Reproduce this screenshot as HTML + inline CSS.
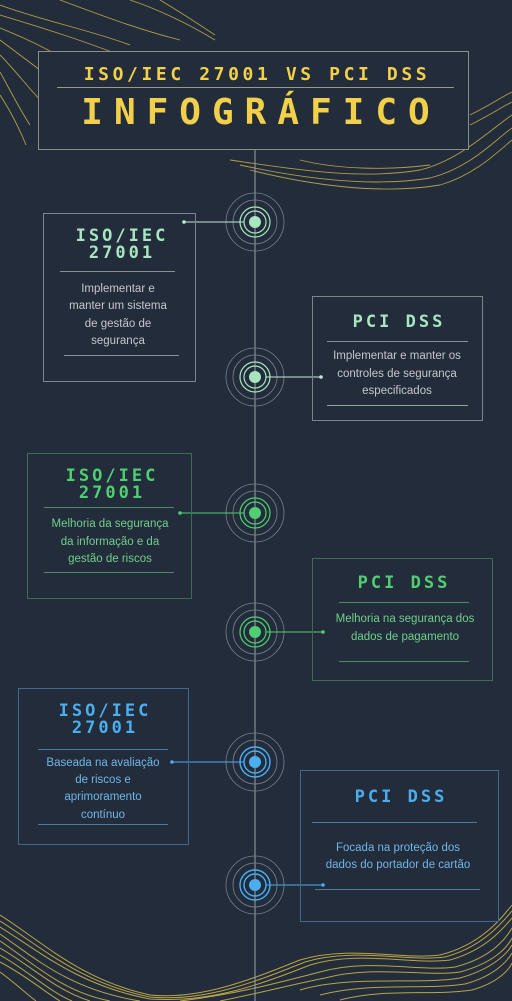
<!DOCTYPE html>
<html><head><meta charset="utf-8"><style>
html,body{margin:0;padding:0;background:#232c3b;}
svg{display:block}
.t{font-family:"DejaVu Sans Mono","Liberation Mono",monospace;font-weight:bold;text-anchor:middle}
.c{letter-spacing:3px}
.b{font-family:"Liberation Sans","DejaVu Sans",sans-serif;font-size:11.5px;text-anchor:middle}
</style></head><body>
<svg width="512" height="1001" viewBox="0 0 512 1001" xmlns="http://www.w3.org/2000/svg">
<rect width="512" height="1001" fill="#232c3b"/>
<g fill="none" stroke="#c9b24a" stroke-width="0.9" opacity="0.85">
  <path d="M0 5 C40 20 90 30 130 45"/>
  <path d="M0 15 C50 30 80 40 120 55"/>
  <path d="M0 28 C30 40 60 55 80 70"/>
  <path d="M0 40 C20 55 40 70 60 85"/>
  <path d="M0 55 C15 70 30 90 45 105"/>
  <path d="M0 72 C10 90 20 110 30 125"/>
  <path d="M0 95 C10 110 20 130 26 145"/>
  <path d="M60 0 C100 15 140 30 180 40"/>
  <path d="M130 0 C160 10 190 25 215 40"/>
  <path d="M160 0 C180 12 200 25 215 35"/>
  <path d="M230 160 C300 170 360 180 420 170 C460 160 490 130 512 115"/>
  <path d="M240 165 C300 178 370 188 430 178 C470 168 495 140 512 128"/>
  <path d="M250 170 C310 185 380 195 440 185 C475 175 500 150 512 140"/>
  <path d="M300 160 C340 170 390 170 430 165"/>
  <path d="M470 115 C490 105 500 98 512 92"/>
  <path d="M470 125 C490 115 500 108 512 102"/>
</g>
<g fill="none" stroke="#c9b24a" stroke-width="1" opacity="0.9">
  <path d="M0 915 C40 940 80 980 150 995 C200 1000 250 980 300 960 C350 945 400 960 440 955 C480 945 500 920 512 905"/>
  <path d="M0 921 C40 946 80 983 150 997 C205 1002 255 982 305 962 C355 947 405 962 445 957 C482 947 501 924 512 911"/>
  <path d="M0 927 C40 952 80 986 150 999 C210 1003 260 985 310 965 C360 950 410 965 450 960 C485 950 502 930 512 918"/>
  <path d="M0 934 C35 958 70 990 140 1001 M180 1001 C230 995 270 985 320 972 C370 958 420 972 455 967 C490 958 505 940 512 928"/>
  <path d="M0 941 C32 962 62 992 110 1001 M220 1001 C260 993 290 985 325 978 C375 965 425 977 460 972 C493 963 507 948 512 938"/>
  <path d="M0 948 C30 965 55 990 90 1001 M300 990 C350 975 420 985 460 978 C495 968 508 952 512 945"/>
  <path d="M0 955 C27 970 50 992 72 1001 M320 995 C370 982 425 990 465 984 C498 975 509 958 512 953"/>
  <path d="M0 962 C25 975 45 992 60 1001 M340 1000 C385 988 432 996 472 990 C500 982 510 968 512 963"/>
  <path d="M0 972 C15 983 28 995 36 1001"/>
</g>
<line x1="255" y1="149" x2="255" y2="1001" stroke="#9aa0a8" stroke-width="1"/>
<!-- header -->
<rect x="38.5" y="51.5" width="430" height="98" fill="#232c3b" stroke="#8a8f86" stroke-width="1"/>
<text class="t" x="257" y="80" font-size="18" fill="#f2d04a" letter-spacing="3.6">ISO/IEC 27001 VS PCI DSS</text>
<line x1="57" y1="87.5" x2="454" y2="87.5" stroke="#9a9a88" stroke-width="1"/>
<text class="t" x="261" y="124" font-size="36" fill="#f2d04a" letter-spacing="11">INFOGRÁFICO</text>

<!-- nodes -->
<g fill="none">
 <g stroke="#7a808a" stroke-width="0.8">
  <circle cx="255" cy="222" r="29"/><circle cx="255" cy="222" r="22"/>
  <circle cx="255" cy="377" r="29"/><circle cx="255" cy="377" r="22"/>
  <circle cx="255" cy="513" r="29"/><circle cx="255" cy="513" r="22"/>
  <circle cx="255" cy="632" r="29"/><circle cx="255" cy="632" r="22"/>
  <circle cx="255" cy="762" r="29"/><circle cx="255" cy="762" r="22"/>
  <circle cx="255" cy="885" r="29"/><circle cx="255" cy="885" r="22"/>
 </g>
 <g stroke="#a8e6c0" stroke-width="1.2">
  <circle cx="255" cy="222" r="15"/><circle cx="255" cy="222" r="11"/>
  <circle cx="255" cy="377" r="15"/><circle cx="255" cy="377" r="11"/>
 </g>
 <g stroke="#4fcf72" stroke-width="1.2">
  <circle cx="255" cy="513" r="15"/><circle cx="255" cy="513" r="11"/>
  <circle cx="255" cy="632" r="15"/><circle cx="255" cy="632" r="11"/>
 </g>
 <g stroke="#4aaef0" stroke-width="1.4">
  <circle cx="255" cy="762" r="15"/><circle cx="255" cy="762" r="11"/>
  <circle cx="255" cy="885" r="15"/><circle cx="255" cy="885" r="11"/>
 </g>
</g>
<g>
 <circle cx="255" cy="222" r="6" fill="#a8e6c0"/><circle cx="255" cy="377" r="6" fill="#a8e6c0"/>
 <circle cx="255" cy="513" r="6" fill="#4fcf72"/><circle cx="255" cy="632" r="6" fill="#4fcf72"/>
 <circle cx="255" cy="762" r="6" fill="#4aaef0"/><circle cx="255" cy="885" r="6" fill="#4aaef0"/>
</g>
<!-- connectors -->
<g stroke-width="1">
 <line x1="184" y1="222" x2="244" y2="222" stroke="#c8e8d8"/><circle cx="184" cy="222" r="1.8" fill="#c8e8d8"/>
 <line x1="266" y1="377" x2="321" y2="377" stroke="#c8e8d8"/><circle cx="321" cy="377" r="1.8" fill="#c8e8d8"/>
 <line x1="180" y1="513" x2="244" y2="513" stroke="#4fcf72"/><circle cx="180" cy="513" r="1.8" fill="#4fcf72"/>
 <line x1="266" y1="632" x2="323" y2="632" stroke="#4fcf72"/><circle cx="323" cy="632" r="1.8" fill="#4fcf72"/>
 <line x1="172" y1="762" x2="244" y2="762" stroke="#4aaef0"/><circle cx="172" cy="762" r="1.8" fill="#4aaef0"/>
 <line x1="266" y1="885" x2="323" y2="885" stroke="#4aaef0"/><circle cx="323" cy="885" r="1.8" fill="#4aaef0"/>
</g>

<!-- card 1 -->
<rect x="43.5" y="213.5" width="152" height="168" fill="none" stroke="#7e848c"/>
<text class="t c" x="122" y="241" font-size="17" fill="#a8e6c0">ISO/IEC</text>
<text class="t c" x="122" y="258" font-size="17" fill="#a8e6c0">27001</text>
<line x1="60" y1="271.5" x2="175" y2="271.5" stroke="#8a9098"/>
<text class="b" x="118" y="292" fill="#c4c8cc">Implementar e</text>
<text class="b" x="118" y="309" fill="#c4c8cc">manter um sistema</text>
<text class="b" x="118" y="327" fill="#c4c8cc">de gestão de</text>
<text class="b" x="118" y="344" fill="#c4c8cc">segurança</text>
<line x1="64" y1="355.5" x2="179" y2="355.5" stroke="#8a9098"/>

<!-- card 2 -->
<rect x="312.5" y="296.5" width="170" height="124" fill="none" stroke="#7e848c"/>
<text class="t c" x="399" y="327" font-size="17" fill="#a8e6c0">PCI DSS</text>
<line x1="327" y1="341.5" x2="468" y2="341.5" stroke="#8a9098"/>
<text class="b" x="397" y="359" fill="#c4c8cc">Implementar e manter os</text>
<text class="b" x="397" y="377" fill="#c4c8cc">controles de segurança</text>
<text class="b" x="397" y="394" fill="#c4c8cc">especificados</text>
<line x1="327" y1="405.5" x2="468" y2="405.5" stroke="#8aa898"/>

<!-- card 3 -->
<rect x="27.5" y="453.5" width="164" height="145" fill="none" stroke="#3f6a55"/>
<text class="t c" x="112" y="481" font-size="17" fill="#4fcf72">ISO/IEC</text>
<text class="t c" x="112" y="498" font-size="17" fill="#4fcf72">27001</text>
<line x1="44" y1="507.5" x2="174" y2="507.5" stroke="#4f8a65"/>
<text class="b" x="110" y="527" fill="#6fcf8a">Melhoria da segurança</text>
<text class="b" x="110" y="545" fill="#6fcf8a">da informação e da</text>
<text class="b" x="110" y="562" fill="#6fcf8a">gestão de riscos</text>
<line x1="44" y1="572.5" x2="174" y2="572.5" stroke="#4f8a65"/>

<!-- card 4 -->
<rect x="312.5" y="558.5" width="180" height="122" fill="none" stroke="#3f6a55"/>
<text class="t c" x="404" y="588" font-size="17" fill="#4fcf72">PCI DSS</text>
<line x1="339" y1="602.5" x2="469" y2="602.5" stroke="#4f8a65"/>
<text class="b" x="405" y="622" fill="#6fcf8a">Melhoria na segurança dos</text>
<text class="b" x="405" y="640" fill="#6fcf8a">dados de pagamento</text>
<line x1="339" y1="661.5" x2="469" y2="661.5" stroke="#4f8a65"/>

<!-- card 5 -->
<rect x="18.5" y="688.5" width="170" height="156" fill="none" stroke="#3d6a8e"/>
<text class="t c" x="105" y="716" font-size="17" fill="#4aaef0">ISO/IEC</text>
<text class="t c" x="105" y="733" font-size="17" fill="#4aaef0">27001</text>
<line x1="38" y1="749.5" x2="168" y2="749.5" stroke="#4a7aa0"/>
<text class="b" x="103" y="766" fill="#6fb6e6">Baseada na avaliação</text>
<text class="b" x="103" y="783" fill="#6fb6e6">de riscos e</text>
<text class="b" x="103" y="800" fill="#6fb6e6">aprimoramento</text>
<text class="b" x="103" y="818" fill="#6fb6e6">contínuo</text>
<line x1="38" y1="824.5" x2="168" y2="824.5" stroke="#4a7aa0"/>

<!-- card 6 -->
<rect x="300.5" y="770.5" width="198" height="151" fill="none" stroke="#3d6a8e"/>
<text class="t c" x="401" y="802" font-size="17" fill="#4aaef0">PCI DSS</text>
<line x1="312" y1="822.5" x2="477" y2="822.5" stroke="#4a7aa0"/>
<text class="b" x="398" y="851" fill="#6fb6e6">Focada na proteção dos</text>
<text class="b" x="398" y="868" fill="#6fb6e6">dados do portador de cartão</text>
<line x1="315" y1="889.5" x2="480" y2="889.5" stroke="#4a7aa0"/>
</svg>
</body></html>
